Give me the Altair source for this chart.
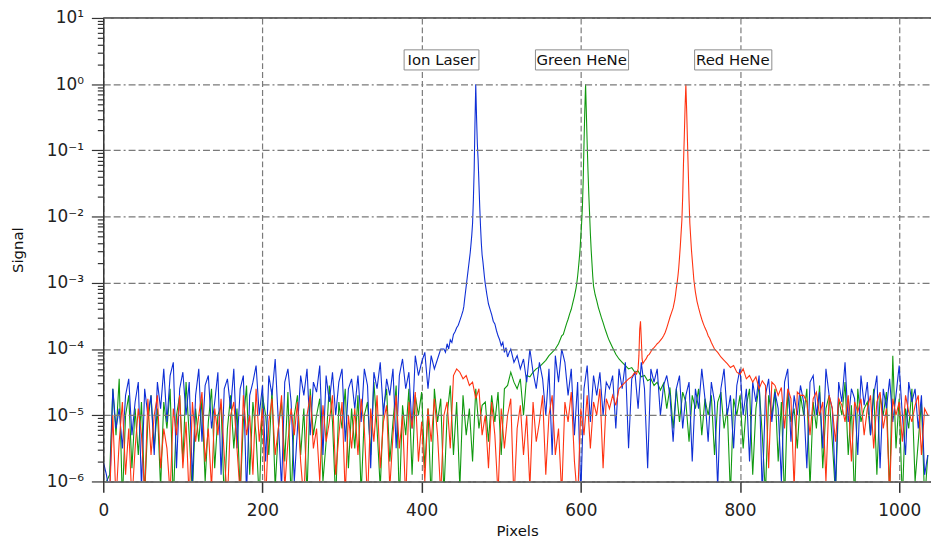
import altair as alt
import pandas as pd

# ---------------- data (log10 of signal) ----------------
pixels = list(range(0, 1040, 4))

green_noise = [
    -6.2, -6.0, -5.9, -4.6, -5.3, -4.45, -6.3, -5.0, -4.7, -5.8, -4.9, -5.6, -4.8, -6.2, -5.1, -4.7, -5.5, -4.9, -6.1, -4.8,
    -5.2, -4.6, -6.3, -5.0, -4.7, -5.7, -4.5, -5.3, -6.2, -4.9, -5.4, -4.75, -6.0, -5.1, -4.6, -5.8, -5.0, -4.85, -6.3, -5.2,
    -4.7, -5.5, -4.9, -6.2, -5.1, -4.55, -5.9, -4.8, -5.3, -6.3, -4.7, -5.0, -5.6, -4.6, -6.1, -5.2, -4.8, -5.7, -4.65, -6.3,
    -5.0, -4.7, -5.6, -4.9, -6.2, -4.6, -5.3, -5.0, -4.75, -6.0, -5.4, -4.55, -5.1, -6.3, -4.8, -5.2, -4.6, -5.8, -4.9, -5.5,
    -4.7, -6.2, -5.0, -4.8, -5.6, -4.5, -5.2, -6.1, -4.9, -4.6, -5.7, -5.1, -4.55, -6.3, -4.85, -5.3, -4.6, -5.9, -4.7, -5.0,
    -4.65, -5.8, -4.9, -6.3, -4.6, -5.1, -4.75, -6.2, -5.0, -4.55, -5.6, -4.8, -6.1, -4.7, -5.3, -4.9, -5.7, -4.6, -5.2, -4.85,
    -4.8, -5.4, -4.7, -5.1, -4.65, -5.6, -4.6, -4.55, -4.35, -4.5, -4.6, -4.45, -5.0, -4.4, -4.42, -4.35, -4.3, -4.27, -4.22, -4.17,
    -4.1, -4.05, -4.0, -3.92, -3.8, -3.7, -3.55, -3.4, -3.2, -2.9, -2.3, -0.9, -0.9, -2.25, -3.05, -3.27, -3.45, -3.6, -3.75, -3.88,
    -3.98, -4.08, -4.15, -4.2, -4.25, -4.3, -4.28, -4.35, -4.33, -4.42, -4.4, -4.48, -4.45, -4.55, -4.5, -4.62, -4.52, -4.9, -4.58, -5.2,
    -4.6, -5.1, -4.65, -4.8, -5.4, -4.7, -4.9, -4.6, -5.3, -4.75, -5.0, -4.7, -5.6, -4.8, -4.65, -5.2, -4.9, -6.2, -4.75, -5.0,
    -4.7, -5.5, -4.85, -4.6, -5.9, -4.9, -4.55, -5.3, -6.2, -4.7, -5.0, -4.6, -5.7, -4.8, -6.3, -4.65, -5.1, -4.9, -5.5, -4.7,
    -5.0, -4.6, -6.1, -4.8, -5.2, -4.55, -5.8, -4.9, -4.7, -5.4, -6.2, -4.75, -5.0, -4.5, -5.6, -4.85, -6.3, -4.6, -5.1, -4.9,
    -4.8, -5.3, -4.6, -5.9, -4.7, -5.0, -4.65, -6.2, -4.1, -5.5, -4.75, -6.3, -4.9, -5.2, -4.6, -6.0, -5.4, -4.8, -6.3, -5.6,
]

blue_noise = [
    -5.7, -5.9, -6.2, -4.6, -5.2, -4.9, -5.5, -4.7, -4.45, -5.3, -4.8, -4.5, -6.1, -4.6, -5.0, -4.7, -5.6, -4.5, -4.9, -4.3,
    -5.1, -4.4, -4.2, -5.8, -4.6, -4.35, -5.0, -4.5, -6.0, -4.7, -4.3, -5.4, -4.55, -4.4, -5.2, -4.8, -4.35, -5.9, -4.6, -4.45,
    -4.9, -4.3, -5.5, -4.6, -4.4, -6.2, -4.7, -4.5, -4.25, -5.0, -4.55, -5.7, -4.4, -4.7, -4.15, -5.1, -6.1, -4.5, -4.3, -4.8,
    -6.0, -5.2, -4.4, -4.7, -4.3, -5.3, -4.5, -4.65, -4.25, -5.6, -4.4, -4.8, -4.35, -5.0, -4.5, -4.3, -5.4, -4.6, -4.45, -4.9,
    -4.4, -5.1, -4.3, -4.55, -5.8, -4.35, -4.6, -4.2, -5.0, -4.45, -4.7, -4.3, -5.5, -4.4, -4.15, -4.6, -4.35, -5.2, -4.1, -4.4,
    -4.2, -4.05, -4.6, -4.1, -4.3, -4.15, -4.0, -4.0, -3.95, -3.85, -3.78, -3.68, -3.55, -3.4, -3.1, -2.65, -2.1, 0.0, -1.5, -2.6,
    -3.02, -3.35, -3.5, -3.65, -3.85, -3.98, -4.05, -4.15, -4.0, -4.2, -4.1, -4.3, -4.15, -4.5, -4.0, -4.35, -4.6, -4.2, -4.45, -5.0,
    -4.3, -5.6, -4.1, -4.5, -4.0, -4.2, -4.7, -4.3, -5.3, -4.5, -6.2, -4.6, -4.25, -5.1, -4.4, -4.7, -4.35, -5.0, -4.5, -4.6,
    -4.4, -5.2, -4.3, -4.6, -4.2, -5.5, -4.45, -4.35, -4.9, -4.2, -4.6, -5.8, -4.3, -4.5, -4.3, -5.0, -4.55, -4.4, -4.7, -5.4,
    -4.6, -4.4, -5.2, -4.7, -4.5, -5.7, -4.6, -4.9, -4.3, -4.75, -5.4, -4.5, -4.8, -6.1, -4.6, -4.3, -5.0, -4.7, -5.5, -4.55,
    -4.3, -5.0, -4.6, -5.7, -4.5, -4.8, -4.4, -6.2, -4.7, -4.45, -5.1, -4.65, -4.9, -6.0, -4.5, -4.3, -5.4, -4.7, -5.0, -4.55,
    -4.8, -5.8, -4.5, -4.4, -5.0, -4.65, -5.5, -4.3, -4.7, -4.9, -6.1, -4.5, -4.8, -4.2, -5.1, -4.6, -4.75, -5.6, -4.4, -4.85,
    -4.5, -5.3, -4.7, -4.4, -5.8, -4.6, -4.9, -4.45, -5.1, -4.7, -4.25, -5.0, -5.6, -4.5, -4.8, -4.6, -5.2, -4.7, -5.9, -5.6,
]

red_noise = [
    None, None, -6.2, -5.0, -6.3, -5.4, -4.8, -5.9, -5.2, -6.3, -5.5, -4.9, -5.3, -6.2, -4.75, -5.6, -5.0, -4.7, -5.8, -5.2,
    -5.5, -6.2, -4.9, -5.3, -4.7, -5.8, -5.1, -6.3, -4.8, -5.4, -5.0, -4.65, -5.7, -5.2, -6.1, -4.9, -5.3, -4.75, -5.6, -6.3,
    -5.0, -4.8, -5.5, -6.2, -4.7, -5.3, -5.0, -5.9, -4.6, -5.4, -4.9, -6.3, -5.1, -4.75, -5.6, -5.2, -4.7, -6.1, -5.4, -4.9,
    -5.3, -4.8, -5.7, -6.3, -5.0, -4.7, -5.5, -5.2, -6.0, -4.85, -5.4, -5.1, -4.7, -5.9, -5.3, -4.8, -6.2, -5.0, -5.5, -4.9,
    -5.6, -4.75, -5.2, -6.3, -4.9, -5.4, -4.7, -5.8, -5.1, -4.85, -6.1, -5.3, -4.7, -5.5, -5.0, -6.3, -4.8, -5.2, -4.65, -5.7,
    -5.1, -6.0, -4.9, -5.4, -4.75, -5.3, -6.2, -5.0, -4.8, -5.5, -4.4, -4.3, -4.35, -4.45, -4.4, -4.55, -4.5, -4.75, -4.6, -5.3,
    -5.0, -5.8, -4.8, -5.3, -6.2, -4.9, -5.5, -5.0, -4.75, -6.3, -5.2, -4.85, -5.6, -5.0, -6.1, -4.8, -5.4, -5.1, -4.7, -5.9,
    -5.0, -4.7, -5.6, -5.2, -6.2, -4.8, -5.1, -4.65, -5.7, -6.3, -4.9, -5.3, -4.7, -5.5, -4.8, -5.0, -4.6, -5.8, -4.75, -4.9,
    -4.7, -4.85, -4.6, -4.55, -4.5, -4.45, -4.42, -4.35, -4.25, -3.6, -4.2, -4.12, -4.05, -3.98, -3.93, -3.88, -3.82, -3.7, -3.52, -3.38,
    -3.0, -2.65, -1.5, 0.0, -1.75, -2.65, -3.1, -3.38, -3.55, -3.68, -3.8, -3.9, -4.0, -4.05, -4.12, -4.17, -4.22, -4.28, -4.25, -4.35,
    -4.38, -4.3, -4.45, -4.4, -4.5, -4.42, -4.6, -4.48, -4.55, -5.8, -4.5, -4.55, -4.7, -4.58, -5.2, -4.6, -4.75, -6.1, -4.65, -4.7,
    -4.7, -4.8, -5.3, -4.75, -4.65, -5.0, -4.8, -6.0, -4.7, -4.9, -5.4, -4.75, -4.85, -5.1, -4.7, -5.7, -4.8, -4.95, -4.75, -5.3,
    -4.9, -4.7, -5.5, -4.8, -4.65, -5.2, -4.9, -6.2, -4.75, -5.0, -4.8, -5.4, -4.7, -4.95, -5.1, -4.85, -4.7, -5.6, -4.9, -5.0,
]

# finer samples across the laser lines: (pixel, log10 signal)
blue_peak = [
    (430, -4.05), (432, -3.92), (434, -4.0), (436, -3.86), (438, -3.9), (440, -3.78), (442, -3.74),
    (444, -3.68), (446, -3.64), (448, -3.57), (450, -3.5), (452, -3.42), (453, -3.36), (454, -3.25),
    (455, -3.15), (456, -3.05), (457, -2.95), (458, -2.85), (459, -2.75), (460, -2.65), (461, -2.55),
    (462, -2.42), (463, -2.28), (464, -2.1), (465, -1.75), (466, -1.3), (467, -0.6), (468, 0.0),
    (469, -0.5), (470, -0.9), (471, -1.15), (472, -1.5), (473, -1.85), (474, -2.15), (475, -2.4),
    (476, -2.58), (477, -2.68), (478, -2.8), (479, -2.92), (480, -3.02), (482, -3.18), (484, -3.32),
    (486, -3.4), (488, -3.48), (490, -3.58), (492, -3.62), (494, -3.72), (496, -3.8), (498, -3.86),
    (500, -3.95), (502, -3.9), (504, -4.05), (506, -3.98), (508, -4.12), (510, -4.05),
]

green_peak = [
    (578, -3.78), (580, -3.7), (582, -3.62), (584, -3.55), (586, -3.47), (588, -3.4), (590, -3.3),
    (592, -3.2), (594, -3.08), (595, -3.0), (596, -2.9), (597, -2.78), (598, -2.65), (599, -2.5),
    (600, -2.3), (601, -2.1), (602, -1.85), (603, -1.45), (604, -0.9), (605, -0.4), (606, 0.0),
    (607, -0.45), (608, -0.9), (609, -1.3), (610, -1.65), (611, -1.95), (612, -2.25), (613, -2.5),
    (614, -2.7), (615, -2.9), (616, -3.05), (618, -3.18), (620, -3.27), (622, -3.37), (624, -3.45),
    (626, -3.53), (628, -3.6), (630, -3.68), (632, -3.75), (634, -3.82), (636, -3.88),
]

red_peak = [
    (670, -4.38), (672, -4.3), (673, -4.1), (674, -3.7), (675, -3.58), (676, -3.85), (677, -4.15),
    (678, -4.22), (680, -4.18), (682, -4.15), (684, -4.1), (686, -4.08), (688, -4.04), (690, -4.0),
    (692, -3.98), (694, -3.95), (696, -3.92), (698, -3.9), (700, -3.87), (702, -3.84), (704, -3.8),
    (706, -3.75), (708, -3.68), (710, -3.6), (712, -3.52), (714, -3.45), (716, -3.38), (718, -3.26),
    (719, -3.18), (720, -3.08), (721, -3.0), (722, -2.9), (723, -2.78), (724, -2.62), (725, -2.45),
    (726, -2.25), (727, -2.05), (728, -1.7), (729, -1.2), (730, -0.8), (731, -0.35), (732, 0.0),
    (733, -0.4), (734, -0.85), (735, -1.3), (736, -1.75), (737, -2.1), (738, -2.3), (739, -2.5),
    (740, -2.65), (741, -2.8), (742, -2.95), (743, -3.05), (744, -3.14), (746, -3.28), (748, -3.38),
    (750, -3.47), (752, -3.55), (754, -3.62), (756, -3.68), (758, -3.73), (760, -3.8), (762, -3.84),
    (764, -3.9),
]

# annotation boxes (data coordinates)
labels = ["Ion Laser", "Green HeNe", "Red HeNe"]
label_x = [425, 601, 791]
label_y = [2.3, 2.3, 2.3]
box_x1 = [378, 543, 743]
box_x2 = [472, 660, 840]
box_y1 = [1.64, 1.64, 1.64]
box_y2 = [3.3, 3.3, 3.3]

colors = {"green": "#10990f", "blue": "#0f2fd6", "red": "#ff3311"}


def build(noise, peak):
    lo = min(p[0] for p in peak)
    hi = max(p[0] for p in peak)
    rows = [(x, e) for x, e in zip(pixels, noise) if x < lo or x > hi] + list(peak)
    rows.sort(key=lambda r: r[0])
    return pd.DataFrame(rows, columns=["pixel", "e"])


W, H = 834, 467

xscale = alt.Scale(domain=[0, 1040], nice=False, zero=False)
yscale = alt.Scale(type="log", domain=[1e-6, 10], nice=False)

decades = [10.0 ** d for d in range(-6, 2)]
minors = [k * 10.0 ** d for d in range(-6, 1) for k in range(2, 10)]
yvals = sorted(decades + minors)

major = "abs(log(datum.value)/LN10 - round(log(datum.value)/LN10)) < 0.01"
sup = ["10\u207b\u2076", "10\u207b\u2075", "10\u207b\u2074", "10\u207b\u00b3",
       "10\u207b\u00b2", "10\u207b\u00b9", "10\u2070", "10\u00b9"]
label_expr = (
    "(" + major + ") ? [" + ",".join("'" + s + "'" for s in sup) + "][round(log(datum.value)/LN10) + 6] : ''"
)

FONT = "DejaVu Sans"

yaxis = alt.Axis(
    values=yvals,
    labelExpr=label_expr,
    tickSize={"condition": {"test": major, "value": 12}, "value": 6},
    tickColor="#333333",
    tickWidth=1.2,
    grid=True,
    gridOpacity={"condition": {"test": major, "value": 1}, "value": 0},
    gridDash=[7, 3, 7, 3, 2, 3],
    gridColor="#7a7a7a",
    gridWidth=1.2,
    domainColor="#333333",
    domainWidth=1.5,
    labelFont=FONT,
    labelFontSize=17,
    labelColor="#222222",
    labelPadding=8,
    labelOverlap=False,
    labelFlush=False,
    title="Signal",
    titleFont=FONT,
    titleFontSize=15,
    titleFontWeight="normal",
    titleColor="#111111",
    titleX=-78,
    titleY=H / 2,
    titleBaseline="bottom",
    titleAlign="center",
    zindex=1,
)

xaxis = alt.Axis(
    values=[0, 200, 400, 600, 800, 1000],
    format="d",
    tickSize=11,
    tickColor="#333333",
    tickWidth=1.5,
    domainColor="#333333",
    domainWidth=1.5,
    grid=True,
    gridDash=[6, 3],
    gridColor="#7a7a7a",
    gridWidth=1.2,
    labelFont=FONT,
    labelFontSize=17,
    labelColor="#222222",
    labelPadding=10,
    labelFlush=False,
    title="Pixels",
    titleFont=FONT,
    titleFontSize=15,
    titleFontWeight="normal",
    titleColor="#111111",
    titleY=42,
    titleBaseline="top",
    zindex=0,
)


def line(df, color):
    return (
        alt.Chart(df)
        .transform_calculate(signal="datum.e == null ? null : pow(10, datum.e)")
        .mark_line(color=color, strokeWidth=1.1, clip=True)
        .encode(
            x=alt.X("pixel:Q", scale=xscale, axis=xaxis),
            y=alt.Y("signal:Q", scale=yscale, axis=yaxis),
        )
    )


green = line(build(green_noise, green_peak), colors["green"])
blue = line(build(blue_noise, blue_peak), colors["blue"])
red = line(build(red_noise, red_peak), colors["red"])

top_border = (
    alt.Chart(pd.DataFrame({"k": [0]}))
    .mark_rule(color="#333333", strokeWidth=1.5)
    .encode(x=alt.value(0), x2=alt.value(W), y=alt.value(0))
)

ann = pd.DataFrame({
    "label": labels, "lx": label_x, "ly": label_y,
    "x1": box_x1, "x2": box_x2, "y1": box_y1, "y2": box_y2,
})

boxes = alt.Chart(ann).mark_rect(fill="white", stroke="#8c8c8c", strokeWidth=1).encode(
    x=alt.X("x1:Q", scale=xscale), x2="x2:Q",
    y=alt.Y("y1:Q", scale=yscale), y2="y2:Q",
)

texts = alt.Chart(ann).mark_text(font=FONT, fontSize=15, color="#111111", baseline="middle", align="center").encode(
    x=alt.X("lx:Q", scale=xscale),
    y=alt.Y("ly:Q", scale=yscale),
    text="label:N",
)

chart = (
    alt.layer(green, blue, red, top_border, boxes, texts)
    .properties(
        width=W,
        height=H,
        padding={"left": 96, "top": 8, "right": 0, "bottom": 64},
        autosize=alt.AutoSizeParams(type="none"),
        background="white",
    )
    .configure_view(stroke=None)
)

chart.save("out.html", embed_options={"renderer": "svg", "actions": False})
